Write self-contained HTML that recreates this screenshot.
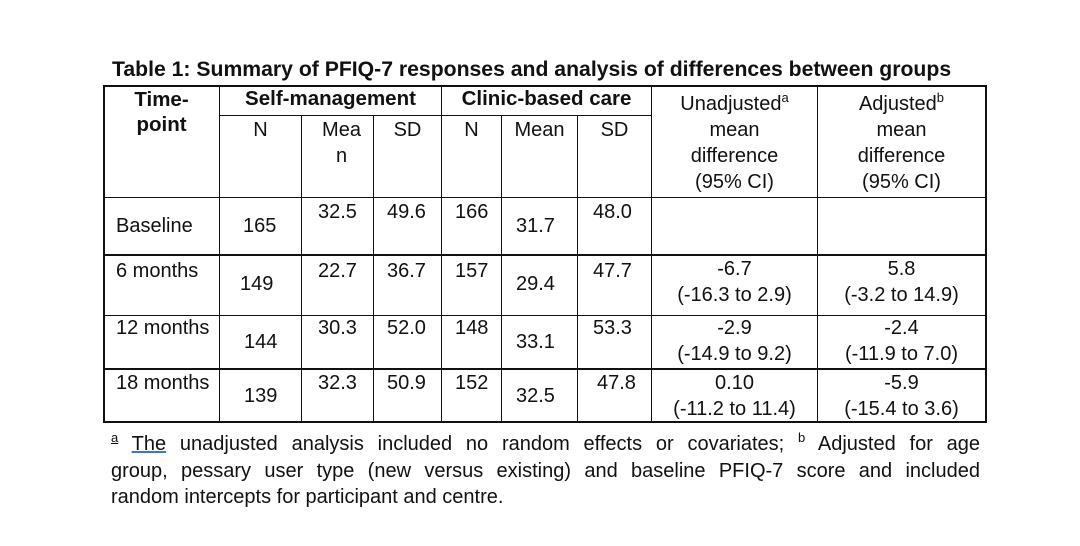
<!DOCTYPE html><html><head><style>
body{margin:0;width:1080px;height:546px;background:#fff;position:relative;font-family:"Liberation Sans",Arial,sans-serif;color:#111;overflow:hidden}
.t{position:absolute;white-space:nowrap;font-size:20px;line-height:26px}
.c{text-align:center}
.h{position:absolute;background:#111;height:2px}
.v{position:absolute;background:#111;width:2px}
.b{font-weight:bold;font-size:20.5px}
.fl{position:absolute;left:111px;width:869px;font-size:20px;line-height:26px;height:26px;text-align:justify;text-align-last:justify;white-space:nowrap}
sup{line-height:0;vertical-align:baseline;position:relative;top:-8px}
</style></head><body>
<div class="t b" style="left:112px;top:57px;font-size:21.2px">Table 1: Summary of PFIQ-7 responses and analysis of differences between groups</div>
<div class="h" style="left:103px;top:85px;width:884px"></div>
<div class="h" style="left:220px;top:115px;width:432px;height:1px"></div>
<div class="h" style="left:103px;top:197px;width:884px;height:1px"></div>
<div class="h" style="left:103px;top:254px;width:884px"></div>
<div class="h" style="left:103px;top:315px;width:884px;height:1px"></div>
<div class="h" style="left:103px;top:368px;width:884px"></div>
<div class="h" style="left:103px;top:421px;width:884px"></div>
<div class="v" style="left:103px;top:85px;height:338px"></div>
<div class="v" style="left:219px;top:85px;height:338px;width:1px"></div>
<div class="v" style="left:301px;top:115px;height:308px;width:1px"></div>
<div class="v" style="left:373px;top:115px;height:308px;width:1px"></div>
<div class="v" style="left:441px;top:85px;height:338px;width:1px"></div>
<div class="v" style="left:501px;top:115px;height:308px;width:1px"></div>
<div class="v" style="left:577px;top:115px;height:308px;width:1px"></div>
<div class="v" style="left:651px;top:85px;height:338px;width:1px"></div>
<div class="v" style="left:817px;top:85px;height:338px;width:1px"></div>
<div class="v" style="left:985px;top:85px;height:338px"></div>
<div class="t b c" style="left:104px;width:115px;top:87px;line-height:25px">Time-<br>point</div>
<div class="t b c" style="left:220px;width:221px;top:86px">Self-management</div>
<div class="t b c" style="left:442px;width:209px;top:86px">Clinic-based care</div>
<div class="t c" style="left:220px;width:81px;top:117px">N</div>
<div class="t c" style="left:302px;width:71px;top:117px;padding-left:8px;box-sizing:border-box">Mea<br>n</div>
<div class="t c" style="left:374px;width:67px;top:117px">SD</div>
<div class="t c" style="left:442px;width:59px;top:117px">N</div>
<div class="t c" style="left:502px;width:75px;top:117px">Mean</div>
<div class="t c" style="left:578px;width:73px;top:117px">SD</div>
<div class="t c" style="left:652px;width:165px;top:91px">Unadjusted<sup style="font-size:13px">a</sup><br>mean<br>difference<br>(95% CI)</div>
<div class="t c" style="left:818px;width:167px;top:91px">Adjusted<sup style="font-size:13px">b</sup><br>mean<br>difference<br>(95% CI)</div>
<div class="t" style="left:116px;top:213px">Baseline</div>
<div class="t" style="left:243px;top:213px">165</div>
<div class="t" style="left:318px;top:199px">32.5</div>
<div class="t" style="left:387px;top:199px">49.6</div>
<div class="t" style="left:455px;top:199px">166</div>
<div class="t" style="left:516px;top:213px">31.7</div>
<div class="t" style="left:593px;top:199px">48.0</div>
<div class="t" style="left:116px;top:258px">6 months</div>
<div class="t" style="left:240px;top:271px">149</div>
<div class="t" style="left:318px;top:258px">22.7</div>
<div class="t" style="left:387px;top:258px">36.7</div>
<div class="t" style="left:455px;top:258px">157</div>
<div class="t" style="left:516px;top:271px">29.4</div>
<div class="t" style="left:593px;top:258px">47.7</div>
<div class="t c" style="left:652px;width:165px;top:256px">-6.7<br>(-16.3 to 2.9)</div>
<div class="t c" style="left:818px;width:167px;top:256px">5.8<br>(-3.2 to 14.9)</div>
<div class="t" style="left:116px;top:315px">12 months</div>
<div class="t" style="left:244px;top:329px">144</div>
<div class="t" style="left:318px;top:315px">30.3</div>
<div class="t" style="left:387px;top:315px">52.0</div>
<div class="t" style="left:455px;top:315px">148</div>
<div class="t" style="left:516px;top:329px">33.1</div>
<div class="t" style="left:593px;top:315px">53.3</div>
<div class="t c" style="left:652px;width:165px;top:315px">-2.9<br>(-14.9 to 9.2)</div>
<div class="t c" style="left:818px;width:167px;top:315px">-2.4<br>(-11.9 to 7.0)</div>
<div class="t" style="left:116px;top:370px">18 months</div>
<div class="t" style="left:244px;top:383px">139</div>
<div class="t" style="left:318px;top:370px">32.3</div>
<div class="t" style="left:387px;top:370px">50.9</div>
<div class="t" style="left:455px;top:370px">152</div>
<div class="t" style="left:516px;top:383px">32.5</div>
<div class="t" style="left:597px;top:370px">47.8</div>
<div class="t c" style="left:652px;width:165px;top:370px">0.10<br>(-11.2 to 11.4)</div>
<div class="t c" style="left:818px;width:167px;top:370px">-5.9<br>(-15.4 to 3.6)</div>
<div class="fl" style="top:431px"><sup style="font-size:13px;text-decoration:underline">a</sup> <u style="text-decoration-color:#4472c4">The</u> unadjusted analysis included no random effects or covariates; <sup style="font-size:13px">b</sup> Adjusted for age</div>
<div class="fl" style="top:458px">group, pessary user type (new versus existing) and baseline PFIQ-7 score and included</div>
<div class="fl" style="top:484px;text-align:left;text-align-last:left">random intercepts for participant and centre.</div>
</body></html>
